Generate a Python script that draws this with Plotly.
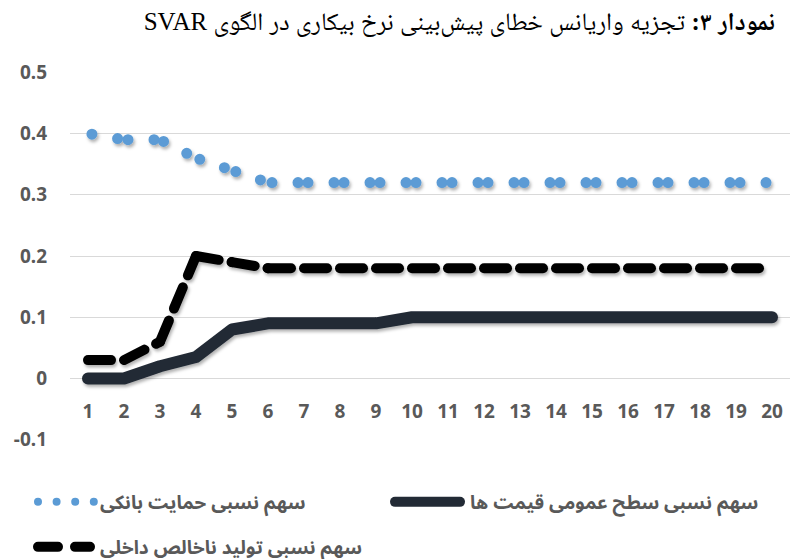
import plotly.graph_objects as go

# ---- data ----
periods = list(range(1, 21))
bank_share = [0.40, 0.39, 0.39, 0.36, 0.34, 0.32, 0.32, 0.32, 0.32, 0.32,
              0.32, 0.32, 0.32, 0.32, 0.32, 0.32, 0.32, 0.32, 0.32, 0.32]
gdp_share = [0.03, 0.03, 0.06, 0.20, 0.19, 0.18, 0.18, 0.18, 0.18, 0.18,
             0.18, 0.18, 0.18, 0.18, 0.18, 0.18, 0.18, 0.18, 0.18, 0.18]
price_share = [0.0, 0.0, 0.02, 0.035, 0.08, 0.09, 0.09, 0.09, 0.09, 0.10,
               0.10, 0.10, 0.10, 0.10, 0.10, 0.10, 0.10, 0.10, 0.10, 0.10]

name_bank = "سهم نسبی حمایت بانکی"
name_price = "سهم نسبی سطح عمومی قیمت ها"
name_gdp = "سهم نسبی تولید ناخالص داخلی"
title_text = "\u202B<b>نمودار ۳:</b> تجزیه واریانس خطای پیش‌بینی نرخ بیکاری در الگوی SVAR\u202C"

y_tickvals = [-0.1, 0, 0.1, 0.2, 0.3, 0.4, 0.5]
y_ticktext = ["-0.1", "0", "0.1", "0.2", "0.3", "0.4", "0.5"]
x_ticktext = [str(p) for p in periods]

BLUE = "#5B9BD5"
DARK = "#222A35"
BLACK = "#000000"
GRAY = "#595959"

fig = go.Figure()

# solid line (single trace)
fig.add_trace(go.Scatter(x=periods, y=price_share, mode="lines",
                         line=dict(color=DARK, width=12),
                         showlegend=False, hoverinfo="skip"))

# dashed and dotted lines, drawn per segment (pattern restarts each segment)
for i in range(len(periods) - 1):
    fig.add_trace(go.Scatter(x=periods[i:i + 2], y=gdp_share[i:i + 2], mode="lines",
                             line=dict(color=BLACK, width=10, dash="23px,13px"),
                             showlegend=False, hoverinfo="skip"))
for i in range(len(periods) - 1):
    fig.add_trace(go.Scatter(x=periods[i:i + 2], y=bank_share[i:i + 2], mode="lines",
                             line=dict(color=BLUE, width=11, dash="0px,26px,0px,200px"),
                             showlegend=False, hoverinfo="skip"))

# legend entries
fig.add_trace(go.Scatter(x=[None], y=[None], mode="lines", name=name_bank,
                         line=dict(color=BLUE, width=8, dash="0px,18.6px"),
                         legend="legend"))
fig.add_trace(go.Scatter(x=[None], y=[None], mode="lines", name=name_price,
                         line=dict(color=DARK, width=10),
                         legend="legend2"))
fig.add_trace(go.Scatter(x=[None], y=[None], mode="lines", name=name_gdp,
                         line=dict(color=BLACK, width=10, dash="20px,17px"),
                         legend="legend3"))

tick_font = dict(family="Noto Sans, Open Sans, DejaVu Sans", size=19, color=GRAY, weight="bold")
leg_font = dict(family="Noto Sans Arabic, DejaVu Sans", size=19,
                color=GRAY, weight="bold")


def leg(x, y, iw, anchor="middle"):
    return dict(orientation="h", xref="container", yref="container",
                x=x / 791, xanchor="left", y=1 - y / 559, yanchor=anchor,
                font=leg_font, bgcolor="rgba(0,0,0,0)", itemwidth=iw)


fig.update_layout(
    width=791, height=559,
    margin=dict(l=70, r=1, t=72, b=119),
    paper_bgcolor="white", plot_bgcolor="white",
    title=dict(text=title_text, x=775 / 791, xanchor="right", xref="container",
               y=1 - 21 / 559, yanchor="middle", yref="container",
               font=dict(family="Liberation Serif, Noto Naskh Arabic, DejaVu Sans",
                         size=25, color="black")),
    xaxis=dict(range=[0.5, 20.5], tickmode="array", tickvals=periods, ticktext=x_ticktext,
               showgrid=False, zeroline=False, showline=False, ticks="",
               anchor="free", position=1 / 6, tickfont=tick_font,
               ticklabelstandoff=19, automargin=False),
    yaxis=dict(range=[-0.1005, 0.5005], tickmode="array", tickvals=y_tickvals,
               ticktext=y_ticktext, showgrid=True, gridcolor="#D9D9D9", gridwidth=1,
               zeroline=False, showline=False, ticks="", tickfont=tick_font,
               ticklabelstandoff=22, automargin=False),
    legend=leg(33, 502, 57),
    legend2=leg(390, 502, 70),
    legend3=leg(33, 547, 57),
    showlegend=True,
)

post = """
document.body.style.margin = '0';
var gd = document.getElementById('{plot_id}');
function fixStyles(){
  var svg = gd.querySelector('svg.main-svg');
  var defs = svg.querySelector('defs');
  if (defs && !document.getElementById('lineshadow')) {
    var ns = 'http://www.w3.org/2000/svg';
    var f = document.createElementNS(ns, 'filter');
    f.setAttribute('id', 'lineshadow');
    f.setAttribute('filterUnits', 'userSpaceOnUse');
    f.setAttribute('x', '-100'); f.setAttribute('y', '-100');
    f.setAttribute('width', '1000'); f.setAttribute('height', '800');
    var ds = document.createElementNS(ns, 'feDropShadow');
    ds.setAttribute('dx', '1.5'); ds.setAttribute('dy', '2.5');
    ds.setAttribute('stdDeviation', '1.5');
    ds.setAttribute('flood-color', '#000'); ds.setAttribute('flood-opacity', '0.3');
    f.appendChild(ds); defs.appendChild(f);
  }
  gd.querySelectorAll('.scatterlayer').forEach(function(t){
    t.setAttribute('filter', 'url(#lineshadow)');
  });
  gd.querySelectorAll('path.js-line, .legendlines path').forEach(function(p){
    p.style.strokeLinecap = 'round';
    p.style.strokeLinejoin = 'round';
    var s = p.style.stroke;
    if (p.closest('.scatterlayer')) {
      if (s === 'rgb(91, 155, 213)') { p.style.strokeDashoffset = '-4px'; }
    } else {
      if (s === 'rgb(91, 155, 213)') { p.setAttribute('d', 'M5,0h56'); }
      else if (s === 'rgb(34, 42, 53)') { p.setAttribute('d', 'M5,0h65'); }
      else { p.setAttribute('d', 'M5,0h52'); }
    }
  });
}
fixStyles();
if (gd.on) { gd.on('plotly_afterplot', fixStyles); }
setTimeout(fixStyles, 50);
"""

fig.write_html("out.html", post_script=post, config={"displayModeBar": False})
